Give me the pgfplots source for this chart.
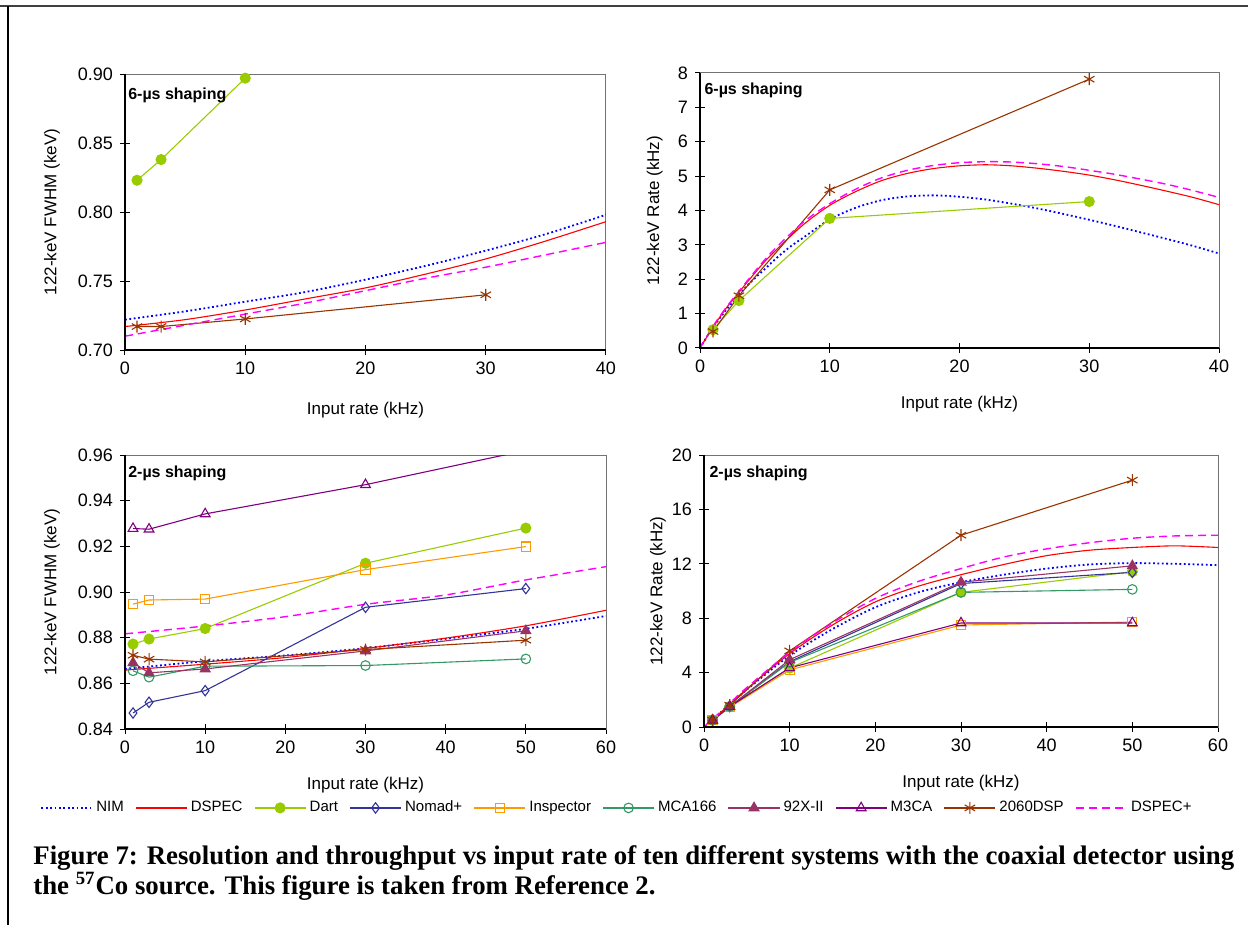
\documentclass[border=0pt]{standalone}
\usepackage{fontspec}
\setmainfont{Liberation Sans}
\newfontfamily\capfont{Liberation Serif}
\usepackage{pgfplots}
\pgfplotsset{compat=1.18}

\definecolor{cNIM}{RGB}{0,0,255}
\definecolor{cDSPEC}{RGB}{255,0,0}
\definecolor{cDart}{RGB}{153,204,0}
\definecolor{cNomad}{RGB}{51,51,153}
\definecolor{cInsp}{RGB}{255,153,0}
\definecolor{cMCA}{RGB}{51,153,102}
\definecolor{cNtwo}{RGB}{153,51,102}
\definecolor{cMthree}{RGB}{128,0,128}
\definecolor{cDSP}{RGB}{153,51,0}
\definecolor{cDSPECp}{RGB}{255,0,255}

% legend key for a solid series: a thin coloured bar, plus the marker if any
\newcommand{\solidkey}[2]{\fill[#1] (0pt,-0.3pt) rectangle (25pt,0.3pt);
  \ifx\relax#2\relax\else\draw[#2] plot coordinates {(12.5pt,0pt)};\fi}

\tikzset{
  shaping/.style={anchor=west, inner sep=0pt, font=\bfseries\fontsize{8}{10}\selectfont},
  mDart/.style={color=cDart, mark=*, mark size=2.5pt, mark options={solid, fill=cDart}},
  mNomad/.style={color=cNomad, mark=diamond, mark size=2.6pt, mark options={solid}},
  mInsp/.style={color=cInsp, mark=square, mark size=2.3pt, mark options={solid}},
  mMCA/.style={color=cMCA, mark=o, mark size=2.4pt, mark options={solid}},
  mNtwo/.style={color=cNtwo, mark=triangle*, mark size=2.8pt, mark options={solid, fill=cNtwo}},
  mMthree/.style={color=cMthree, mark=triangle, mark size=2.8pt, mark options={solid}},
  mDSP/.style={color=cDSP, mark=asterisk, mark size=3pt, mark options={solid}},
  sNIM/.style={color=cNIM, line width=0.9pt, dash pattern=on 0.9pt off 1.3pt, smooth, mark=none},
  sDSPECp/.style={color=cDSPECp, line width=0.7pt, dash pattern=on 4pt off 2.5pt, smooth, mark=none},
  sDSPEC/.style={color=cDSPEC, solid, line width=0.55pt, smooth, mark=none,
    /pgfplots/legend image code/.code={\solidkey{cDSPEC}{}}},
  sDart/.style={mDart, solid, line width=0.55pt,
    /pgfplots/legend image code/.code={\solidkey{cDart}{mDart}}},
  sNomad/.style={mNomad, solid, line width=0.55pt,
    /pgfplots/legend image code/.code={\solidkey{cNomad}{mNomad}}},
  sInsp/.style={mInsp, solid, line width=0.55pt,
    /pgfplots/legend image code/.code={\solidkey{cInsp}{mInsp}}},
  sMCA/.style={mMCA, solid, line width=0.55pt,
    /pgfplots/legend image code/.code={\solidkey{cMCA}{mMCA}}},
  sNtwo/.style={mNtwo, solid, line width=0.55pt,
    /pgfplots/legend image code/.code={\solidkey{cNtwo}{mNtwo}}},
  sMthree/.style={mMthree, solid, line width=0.55pt,
    /pgfplots/legend image code/.code={\solidkey{cMthree}{mMthree}}},
  sDSP/.style={mDSP, solid, line width=0.55pt,
    /pgfplots/legend image code/.code={\solidkey{cDSP}{mDSP}}},
}

\pgfplotsset{
  panel/.style={
    scale only axis,
    axis line style={black!55, line width=0.5pt},
    tick align=center,
    xtick pos=bottom, ytick pos=left,
    major tick length=5pt,
    tick style={black, line width=0.5pt},
    tick label style={font=\fontsize{9}{10}\selectfont},
    label style={font=\fontsize{8.5}{10}\selectfont},
    /pgf/number format/assume math mode=true,
    after end axis/.code={\draw[black, line width=1pt] (rel axis cs:0,1) -- (rel axis cs:0,0) -- (rel axis cs:1,0);},
    legend image code/.code={\draw[##1] (0pt,0pt) -- (25pt,0pt);},
  },
}

\begin{document}
\begin{tikzpicture}
\useasboundingbox (0,0) rectangle (624pt,-462.5pt);
\draw[black!75, line width=1pt] (0,-3pt) -- (624pt,-3pt);
\draw[black, line width=1pt] (4pt,-3pt) -- (4pt,-462.5pt);

% ---------- 6 us shaping: resolution ----------
\begin{axis}[panel, at={(62.5pt,-175pt)}, anchor=south west,
  width=240.5pt, height=138pt,
  xmin=0, xmax=40, ymin=0.70, ymax=0.90,
  xtick={0,10,20,30,40}, ytick={0.70,0.75,0.80,0.85,0.90},
  yticklabel style={/pgf/number format/.cd, fixed, fixed zerofill, precision=2},
  xlabel={Input rate (kHz)}, ylabel={122-keV FWHM (keV)},
  xlabel style={at={(axis description cs:0.5,-0.217)}, anchor=center},
  ylabel style={at={(axis description cs:-0.152,0.5)}, anchor=center}]
\addplot[sNIM] coordinates {(0,0.722)(5,0.728)(10,0.735)(15,0.742)(20,0.751)(25,0.761)(30,0.772)(35,0.784)(40,0.798)};
\addplot[sDSPEC] coordinates {(0,0.717)(5,0.722)(10,0.729)(15,0.737)(20,0.745)(25,0.755)(30,0.766)(35,0.779)(40,0.793)};
\addplot[sDart] coordinates {(1,0.823)(3,0.838)(10,0.897)(30,1.15)};
\addplot[sDSP] coordinates {(1,0.717)(3,0.717)(10,0.7225)(30,0.740)};
\addplot[sDSPECp] coordinates {(0,0.710)(5,0.718)(10,0.726)(15,0.734)(20,0.743)(25,0.752)(30,0.760)(35,0.769)(40,0.778)};
\node[shaping] at (rel axis cs:0.006,0.924) {6-µs shaping};
\end{axis}

% ---------- 6 us shaping: throughput ----------
\begin{axis}[panel, at={(350pt,-174pt)}, anchor=south west,
  width=259.5pt, height=137.5pt,
  xmin=0, xmax=40, ymin=0, ymax=8,
  xtick={0,10,20,30,40}, ytick={0,1,...,8},
  xlabel={Input rate (kHz)}, ylabel={122-keV Rate (kHz)},
  xlabel style={at={(axis description cs:0.5,-0.204)}, anchor=center},
  ylabel style={at={(axis description cs:-0.087,0.5)}, anchor=center}]
\addplot[sNIM] coordinates {(0,0)(1,0.6)(2,1.1)(3,1.55)(4,1.95)(5,2.3)(6,2.65)(7,2.96)(8,3.22)(10,3.74)(12,4.08)(14,4.3)(16,4.41)(18,4.44)(20,4.40)(22,4.32)(24,4.20)(26,4.06)(28,3.90)(30,3.73)(32,3.55)(34,3.36)(36,3.17)(38,2.97)(40,2.75)};
\addplot[sDSPEC] coordinates {(0,0)(1,0.6)(2,1.15)(3,1.62)(4,2.08)(5,2.52)(6,2.9)(8,3.6)(10,4.15)(12,4.55)(14,4.87)(16,5.08)(18,5.22)(20,5.30)(22,5.33)(24,5.30)(26,5.23)(28,5.14)(30,5.03)(32,4.89)(34,4.73)(36,4.56)(38,4.38)(40,4.17)};
\addplot[sDart] coordinates {(1,0.53)(3,1.38)(10,3.77)(30,4.26)};
\addplot[sDSP] coordinates {(1,0.48)(3,1.52)(10,4.6)(30,7.82)};
\addplot[sDSPECp] coordinates {(0,0)(1,0.63)(2,1.17)(3,1.65)(4,2.12)(5,2.57)(6,2.97)(8,3.67)(10,4.2)(12,4.62)(14,4.95)(16,5.17)(18,5.31)(20,5.39)(22,5.42)(24,5.41)(26,5.36)(28,5.28)(30,5.17)(32,5.05)(34,4.91)(36,4.76)(38,4.58)(40,4.38)};
\node[shaping] at (rel axis cs:0.008,0.935) {6-µs shaping};
\end{axis}

% ---------- 2 us shaping: resolution ----------
\begin{axis}[panel, at={(62.5pt,-364.5pt)}, anchor=south west,
  width=240.5pt, height=137pt,
  xmin=0, xmax=60, ymin=0.84, ymax=0.96,
  xtick={0,10,...,60}, ytick={0.84,0.86,0.88,0.90,0.92,0.94,0.96},
  yticklabel style={/pgf/number format/.cd, fixed, fixed zerofill, precision=2},
  xlabel={Input rate (kHz)}, ylabel={122-keV FWHM (keV)},
  xlabel style={at={(axis description cs:0.5,-0.204)}, anchor=center},
  ylabel style={at={(axis description cs:-0.152,0.5)}, anchor=center},
  legend columns=10,
  legend style={draw=white, fill=white, at={(1.025,-0.288)}, anchor=center,
    font=\fontsize{7.5}{9}\selectfont,
    /tikz/every even column/.append style={column sep=4pt}}]
\addplot[sNIM] coordinates {(0,0.8663)(10,0.8697)(20,0.8722)(30,0.8754)(40,0.8795)(50,0.8839)(60,0.8895)};
\addlegendentry{NIM}
\addplot[sDSPEC] coordinates {(0,0.8658)(10,0.8684)(20,0.8713)(30,0.8753)(40,0.8798)(50,0.8852)(60,0.8920)};
\addlegendentry{DSPEC}
\addplot[sDart] coordinates {(1,0.8772)(3,0.8794)(10,0.884)(30,0.9126)(50,0.928)};
\addlegendentry{Dart}
\addplot[sNomad] coordinates {(1,0.847)(3,0.8517)(10,0.8568)(30,0.8933)(50,0.9015)};
\addlegendentry{Nomad+}
\addplot[sInsp] coordinates {(1,0.8947)(3,0.8965)(10,0.8969)(30,0.9098)(50,0.9199)};
\addlegendentry{Inspector}
\addplot[sMCA] coordinates {(1,0.8655)(3,0.8627)(10,0.8675)(30,0.8678)(50,0.8707)};
\addlegendentry{MCA166}
\addplot[sNtwo] coordinates {(1,0.869)(3,0.8646)(10,0.8663)(30,0.8742)(50,0.883)};
\addlegendentry{92X-II}
\addplot[sMthree] coordinates {(1,0.9278)(3,0.9275)(10,0.9342)(30,0.947)(50,0.962)};
\addlegendentry{M3CA}
\addplot[sDSP] coordinates {(1,0.8723)(3,0.8706)(10,0.8694)(30,0.8748)(50,0.8789)};
\addlegendentry{2060DSP}
\addplot[sDSPECp] coordinates {(0,0.8817)(10,0.8851)(20,0.8892)(30,0.8946)(40,0.8987)(50,0.9053)(60,0.9111)};
\addlegendentry{DSPEC+}
\node[shaping] at (rel axis cs:0.006,0.934) {2-µs shaping};
\end{axis}

% ---------- 2 us shaping: throughput ----------
\begin{axis}[panel, at={(352pt,-363.5pt)}, anchor=south west,
  width=257pt, height=136pt,
  xmin=0, xmax=60, ymin=0, ymax=20,
  xtick={0,10,...,60}, ytick={0,4,...,20},
  xlabel={Input rate (kHz)}, ylabel={122-keV Rate (kHz)},
  xlabel style={at={(axis description cs:0.5,-0.206)}, anchor=center},
  ylabel style={at={(axis description cs:-0.0895,0.5)}, anchor=center}]
\addplot[sNIM] coordinates {(0,0)(2,1.1)(5,2.75)(10,5.25)(15,7.2)(20,8.8)(25,9.9)(30,10.65)(35,11.2)(40,11.65)(45,11.95)(50,12.05)(55,12.0)(60,11.9)};
\addplot[sDSPEC] coordinates {(0,0)(2,1.1)(5,2.8)(10,5.4)(15,7.5)(20,9.2)(25,10.35)(30,11.2)(35,11.95)(40,12.6)(45,13.0)(50,13.2)(55,13.32)(60,13.2)};
\addplot[sDart] coordinates {(1,0.52)(3,1.5)(10,4.33)(30,9.9)(50,11.42)};
\addplot[sNomad] coordinates {(1,0.5)(3,1.5)(10,4.8)(30,10.55)(50,11.37)};
\addplot[sInsp] coordinates {(1,0.5)(3,1.45)(10,4.2)(30,7.5)(50,7.72)};
\addplot[sMCA] coordinates {(1,0.5)(3,1.5)(10,4.75)(30,9.9)(50,10.12)};
\addplot[sNtwo] coordinates {(1,0.5)(3,1.5)(10,4.95)(30,10.65)(50,11.85)};
\addplot[sMthree] coordinates {(1,0.5)(3,1.5)(10,4.35)(30,7.65)(50,7.65)};
\addplot[sDSP] coordinates {(1,0.5)(3,1.6)(10,5.6)(30,14.1)(50,18.15)};
\addplot[sDSPECp] coordinates {(0,0)(2,1.15)(5,2.9)(10,5.5)(15,7.65)(20,9.45)(25,10.7)(30,11.65)(35,12.5)(40,13.1)(45,13.55)(50,13.88)(55,14.05)(60,14.1)};
\node[shaping] at (rel axis cs:0.01,0.934) {2-µs shaping};
\end{axis}

\node[anchor=north west, align=left, inner sep=0pt,
  font=\capfont\bfseries\fontsize{13.4}{13.8}\selectfont] at (16.5pt,-422.5pt)
  {Figure 7: Resolution and throughput vs input rate of ten different systems with the coaxial detector using\\
   the \textsuperscript{57}Co source. This figure is taken from Reference 2.};
\end{tikzpicture}
\end{document}
